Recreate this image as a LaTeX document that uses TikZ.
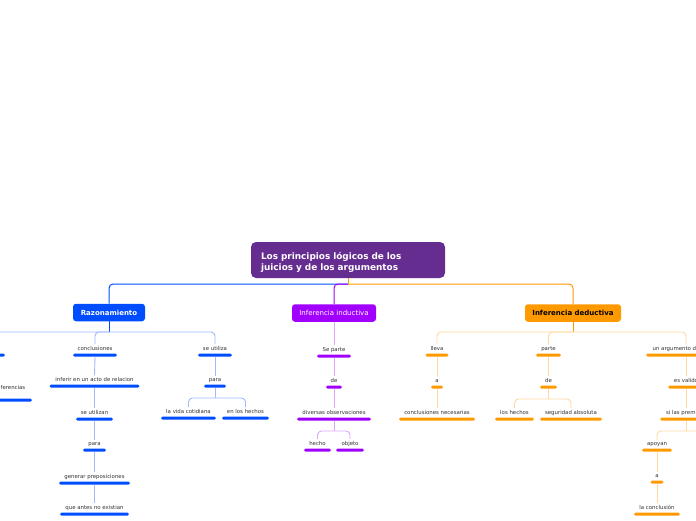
\documentclass[tikz,border=0pt]{standalone}
\usepackage{fontspec}
\setmainfont{DejaVu Sans}
\definecolor{rootc}{RGB}{102,45,145}
\definecolor{bc}{RGB}{0,77,255}
\definecolor{blc}{RGB}{160,185,255}
\definecolor{pc}{RGB}{161,0,255}
\definecolor{plc}{RGB}{222,165,255}
\definecolor{oc}{RGB}{255,153,0}
\definecolor{olc}{RGB}{255,217,160}
\definecolor{lblc}{RGB}{51,51,51}
\tikzset{
 mmbar/.style={fill=#1, draw=none, rounded corners=1.5pt, minimum height=3pt, inner sep=0pt},
 lbl/.style={font=\fontsize{5.4}{6}\selectfont, text=lblc, anchor=base, inner sep=1.5pt},
 topic/.style={fill=#1, rounded corners=3pt, minimum height=17.5pt, inner sep=0pt},
 mainlink/.style={draw=#1, line width=1pt, rounded corners=4pt},
 sublink/.style={draw=#1, line width=0.9pt, rounded corners=4pt},
}
\newcommand\mmleaf[6]{%
 \node[mmbar=#5, minimum width=#4pt] (#1) at (#2,#3) {};
 \node[lbl] (#1t) at (#2,#3-5) {#6};}
\begin{document}
\begin{tikzpicture}[x=1pt,y=-1pt]
\useasboundingbox (0,0) rectangle (696,520);
\fill[white] (0,0) rectangle (696,520);
\clip (0,0) rectangle (696,520);

% root
\node[fill=rootc, rounded corners=5pt, minimum width=194pt, minimum height=36pt,
  text width=174pt, inner xsep=10pt, align=left, text=white,
  font=\fontsize{8.9}{11}\selectfont\bfseries] (root) at (348,260)
  {\rule{0pt}{12pt}Los principios lógicos de los\\juicios y de los argumentos};

% main topics
\node[topic=bc, minimum width=72pt, text=white, font=\fontsize{7}{8}\selectfont\bfseries] (raz) at (109,312.5) {Razonamiento};
\node[topic=pc, minimum width=84pt, text=white, font=\fontsize{7}{8}\selectfont] (ind) at (334,313) {Inferencia inductiva};
\node[topic=oc, minimum width=96pt, text=black, font=\fontsize{7}{8}\selectfont\bfseries] (ded) at (573,313) {Inferencia deductiva};

\coordinate (rj) at (348,284);
\draw[mainlink=bc] (rj) -| (raz.north);
\draw[mainlink=pc] (rj) -| (ind.north);
\draw[mainlink=oc] (rj) -| (ded.north);
\draw[mainlink=oc, rounded corners=0pt] (root.south) -- (rj);

% ---- Razonamiento branch (blue)
\node[mmbar=bc, minimum width=50pt] (L0) at (-20,355) {};
\coordinate (L0top) at (-20,343);
\node[mmbar=bc, minimum width=104pt] (L0c) at (-20,400) {};
\node[lbl, anchor=base east] (L0ct) at (27,389) {inferencias};
\mmleaf{c1}{95}{355}{44}{bc}{conclusiones}
\mmleaf{c2}{94.5}{386}{90}{bc}{inferir en un acto de relacion}
\mmleaf{c3}{94.5}{419}{37}{bc}{se utilizan}
\mmleaf{c4}{94.5}{450}{23}{bc}{para}
\mmleaf{c5}{94.5}{483}{71}{bc}{generar preposiciones}
\mmleaf{c6}{94.5}{514}{69}{bc}{que antes no existian}
\mmleaf{s1}{215}{355}{34}{bc}{se utiliza}
\mmleaf{s2}{215}{386}{22}{bc}{para}
\mmleaf{v1}{188.5}{418}{55}{bc}{la vida cotidiana}
\mmleaf{v2}{245.5}{418}{47}{bc}{en los hechos}

\coordinate (rzj) at (109,332);
\draw[mainlink=bc, line width=0.9pt, rounded corners=0pt] (raz.south) -- (rzj);
\draw[sublink=blc] (rzj) -| (L0top);
\draw[sublink=blc] (rzj) -| (c1t.north);
\draw[sublink=blc] (rzj) -| (s1t.north);
\draw[sublink=blc] (L0.south) -- (L0.south |- L0ct.north);
\draw[sublink=blc] (c1.south) -- (c2t.north);
\draw[sublink=blc] (c2.south) -- (c3t.north);
\draw[sublink=blc] (c3.south) -- (c4t.north);
\draw[sublink=blc] (c4.south) -- (c5t.north);
\draw[sublink=blc] (c5.south) -- (c6t.north);
\draw[sublink=blc] (s1.south) -- (s2t.north);
\coordinate (pj) at (215,398);
\draw[sublink=blc, rounded corners=0pt] (s2.south) -- (pj);
\draw[sublink=blc] (pj) -| (v1t.north);
\draw[sublink=blc] (pj) -| (v2t.north);

% ---- Inferencia inductiva (purple)
\mmleaf{p1}{334}{356}{34}{pc}{Se parte}
\mmleaf{p2}{334}{387}{16}{pc}{de}
\mmleaf{p3}{334}{419}{74}{pc}{diversas observaciones}
\mmleaf{h1}{317.5}{450}{27}{pc}{hecho}
\mmleaf{h2}{350}{450}{28}{pc}{objeto}
\draw[sublink=plc] (ind.south) -- (p1t.north);
\draw[sublink=plc] (p1.south) -- (p2t.north);
\draw[sublink=plc] (p2.south) -- (p3t.north);
\coordinate (dj) at (334,431);
\draw[sublink=plc, rounded corners=0pt] (p3.south) -- (dj);
\draw[sublink=plc] (dj) -| (h1t.north);
\draw[sublink=plc] (dj) -| (h2t.north);

% ---- Inferencia deductiva (orange)
\mmleaf{o1}{437}{355}{23}{oc}{lleva}
\mmleaf{o2}{437}{387}{12}{oc}{a}
\mmleaf{o3}{437}{419}{76}{oc}{conclusiones necesarias}
\mmleaf{o4}{548.5}{355}{25}{oc}{parte}
\mmleaf{o5}{548.5}{387}{17}{oc}{de}
\mmleaf{o6}{514.5}{419}{39}{oc}{los hechos}
\mmleaf{o7}{571}{419}{62}{oc}{seguridad absoluta}
\mmleaf{k1}{686}{355}{80}{oc}{un argumento deductivo}
\mmleaf{k2}{686}{387}{36}{oc}{es valido}
\mmleaf{k3}{686}{419}{52}{oc}{si las premisas}
\mmleaf{a1}{657}{450}{30}{oc}{apoyan}
\mmleaf{a2}{657}{482}{13}{oc}{a}
\mmleaf{a3}{657}{514}{46}{oc}{la conclusión}

\coordinate (dj2) at (573,332);
\draw[mainlink=oc, line width=0.9pt, rounded corners=0pt] (ded.south) -- (dj2);
\draw[sublink=olc] (dj2) -| (o1t.north);
\draw[sublink=olc] (dj2) -| (o4t.north);
\draw[sublink=olc] (dj2) -| (k1t.north);
\draw[sublink=olc] (o1.south) -- (o2t.north);
\draw[sublink=olc] (o2.south) -- (o3t.north);
\draw[sublink=olc] (o4.south) -- (o5t.north);
\coordinate (oj) at (548.5,399);
\draw[sublink=olc, rounded corners=0pt] (o5.south) -- (oj);
\draw[sublink=olc] (oj) -| (o6t.north);
\draw[sublink=olc] (oj) -| (o7t.north);
\draw[sublink=olc] (k1.south) -- (k2t.north);
\draw[sublink=olc] (k2.south) -- (k3t.north);
\coordinate (sj) at (686,431);
\coordinate (sjr) at (740,443);
\draw[sublink=olc, rounded corners=0pt] (k3.south) -- (sj);
\draw[sublink=olc] (sj) -| (a1t.north);
\draw[sublink=olc] (sj) -| (sjr);
\draw[sublink=olc] (a1.south) -- (a2t.north);
\draw[sublink=olc] (a2.south) -- (a3t.north);
\end{tikzpicture}
\end{document}
